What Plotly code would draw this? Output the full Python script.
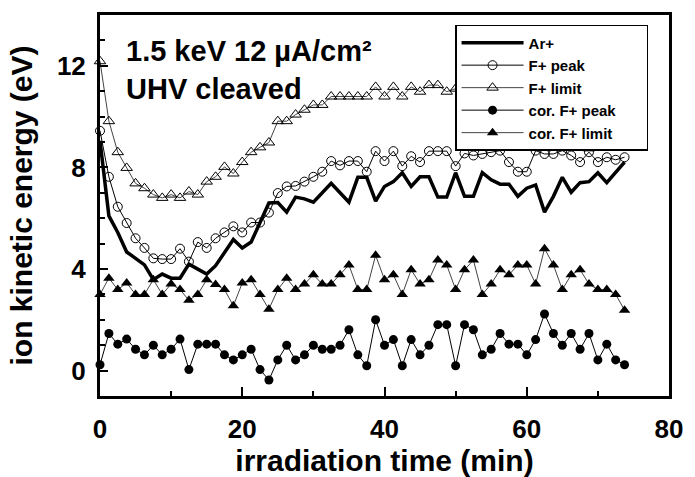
import plotly.graph_objects as go

time_min = [0, 1.25, 2.5, 3.75, 5, 6.25, 7.5, 8.75, 10, 11.25,
            12.5, 13.75, 15, 16.25, 17.5, 18.75, 20, 21.25, 22.5, 23.75,
            25, 26.25, 27.5, 28.75, 30, 31.25, 32.5, 33.75, 35, 36.25,
            37.5, 38.75, 40, 41.25, 42.5, 43.75, 45, 46.25, 47.5, 48.75,
            50, 51.25, 52.5, 53.75, 55, 56.25, 57.5, 58.75, 60, 61.25,
            62.5, 63.75, 65, 66.25, 67.5, 68.75, 70, 71.25, 72.5, 73.75]

ar_plus = [9.05, 6.09, 5.44, 4.67, 4.42, 4.16, 3.58, 3.80, 3.64, 3.64,
           4.19, 4.00, 3.80, 4.13, 4.67, 5.16, 4.83, 5.06, 5.83, 6.60,
           6.62, 6.24, 6.83, 6.76, 6.63, 7.00, 7.37, 7.00, 6.63, 7.61,
           7.61, 6.67, 7.25, 7.44, 7.79, 7.25, 7.63, 7.63, 6.83, 6.83,
           7.79, 6.86, 6.86, 7.79, 7.51, 7.34, 7.34, 6.86, 7.18, 7.31,
           6.24, 6.86, 7.61, 7.02, 7.40, 7.44, 7.79, 7.40, 7.83, 8.21]

f_peak = [9.44, 7.63, 6.45, 5.81, 5.21, 4.83, 4.42, 4.39, 4.39, 4.80,
          4.29, 5.06, 4.83, 5.21, 5.44, 5.68, 5.44, 5.83, 5.83, 6.22,
          6.99, 7.25, 7.27, 7.44, 7.63, 7.83, 8.25, 8.08, 8.25, 8.25,
          7.83, 8.64, 8.25, 8.64, 8.05, 8.44, 8.21, 8.64, 8.64, 8.64,
          8.05, 8.55, 8.47, 8.53, 8.60, 8.66, 8.21, 7.83, 7.83, 8.66,
          8.53, 8.53, 8.66, 8.47, 8.21, 8.60, 8.21, 8.40, 8.30, 8.40]

f_limit = [12.18, 9.82, 8.60, 7.98, 7.37, 7.18, 6.93, 6.80, 6.93, 6.80,
           7.05, 6.93, 7.44, 7.63, 8.02, 7.76, 8.21, 8.60, 8.79, 8.98,
           9.82, 9.82, 10.08, 10.27, 10.46, 10.46, 10.79, 10.79, 10.79, 10.79,
           10.79, 11.17, 10.79, 11.17, 10.79, 11.17, 10.98, 11.24, 11.24, 10.98,
           11.1, 10.9, 11.2, 11.0, 11.2, 10.9, 11.0, 10.7, 10.6, 10.9,
           11.0, 10.8, 10.6, 10.4, 10.0, 8.75, 9.9, 10.2, 10.0, 10.3]

cor_f_peak = [0.23, 1.46, 1.04, 1.24, 0.84, 0.62, 1.00, 0.62, 0.84, 1.24,
              0.04, 1.04, 1.04, 1.04, 0.62, 0.42, 0.62, 0.84, 0.04, -0.37,
              0.42, 1.00, 0.42, 0.62, 1.00, 0.84, 0.84, 1.00, 1.61, 0.62,
              0.19, 2.00, 1.00, 1.22, 0.19, 1.22, 0.62, 1.00, 1.81, 1.81,
              0.19, 1.81, 1.61, 0.62, 0.84, 1.46, 1.04, 1.04, 0.62, 1.22,
              2.23, 1.46, 1.00, 1.46, 0.84, 1.46, 0.42, 1.04, 0.42, 0.23]

cor_f_limit = [3.00, 3.64, 3.19, 3.45, 3.00, 3.00, 3.58, 3.00, 3.41, 3.19,
               2.77, 3.00, 3.58, 3.39, 3.19, 2.55, 3.45, 3.58, 3.00, 2.42,
               3.19, 3.64, 3.19, 3.41, 3.77, 3.41, 3.41, 3.77, 4.16, 3.19,
               3.19, 4.54, 3.58, 3.77, 3.00, 3.97, 3.41, 3.58, 4.35, 4.16,
               3.19, 3.97, 4.35, 3.00, 3.41, 3.97, 3.77, 4.16, 4.16, 3.41,
               4.80, 4.16, 3.19, 3.77, 3.97, 3.41, 3.19, 3.19, 3.00, 2.38]

series_names = ["Ar+", "F+ peak", "F+ limit",
                "cor. F+ peak" + "\u00a0" * 6, "cor. F+ limit"]
x_ticks = [0, 20, 40, 60, 80]
y_ticks = [0, 4, 8, 12]
annotation_text = "1.5 keV 12 µA/cm²<br>UHV cleaved"

FONT = "Liberation Sans, Arial, Helvetica, sans-serif"

fig = go.Figure()

fig.add_trace(go.Scatter(
    x=time_min, y=ar_plus, name=series_names[0], mode="lines",
    line=dict(color="black", width=3.5), cliponaxis=False))
fig.add_trace(go.Scatter(
    x=time_min, y=f_peak, name=series_names[1], mode="lines+markers",
    line=dict(color="black", width=1),
    marker=dict(symbol="circle-open", size=9, color="black", line=dict(width=1)),
    cliponaxis=False))
fig.add_trace(go.Scatter(
    x=time_min, y=f_limit, name=series_names[2], mode="lines+markers",
    line=dict(color="#444444", width=1),
    marker=dict(symbol="triangle-up-open", size=10, color="black", line=dict(width=1)),
    cliponaxis=False))
fig.add_trace(go.Scatter(
    x=time_min, y=cor_f_peak, name=series_names[3], mode="lines+markers",
    line=dict(color="black", width=1),
    marker=dict(symbol="circle", size=9, color="black"),
    cliponaxis=False))
fig.add_trace(go.Scatter(
    x=time_min, y=cor_f_limit, name=series_names[4], mode="lines+markers",
    line=dict(color="#444444", width=1),
    marker=dict(symbol="triangle-up", size=10, color="black"),
    cliponaxis=False))

fig.update_layout(
    width=695, height=477,
    margin=dict(l=100, r=18, t=15, b=74),
    paper_bgcolor="white", plot_bgcolor="white",
    font=dict(family=FONT, color="black"),
    showlegend=True,
    legend=dict(
        x=0.624, y=0.974, xanchor="left", yanchor="top",
        bgcolor="white", bordercolor="black", borderwidth=1.5,
        font=dict(family=FONT, size=15, color="black", weight="bold"),
        itemwidth=62, tracegroupgap=0,
    ),
    annotations=[dict(
        text=annotation_text, xref="paper", yref="paper",
        x=0.043, y=0.953, xanchor="left", yanchor="top", align="left",
        showarrow=False,
        font=dict(family=FONT, size=29, color="black", weight="bold"),
    )],
)

fig.update_xaxes(
    range=[0, 80], tickmode="array", tickvals=x_ticks,
    ticks="inside", ticklen=9, tickwidth=1.5, tickcolor="black",
    minor=dict(dtick=10, tick0=0, ticks="inside", ticklen=5, tickwidth=1.5, tickcolor="black"),
    showline=True, linewidth=3, linecolor="black", mirror=True,
    showgrid=False, zeroline=False,
    tickfont=dict(family=FONT, size=26, color="black", weight="bold"),
    ticklabelstandoff=8,
    title=dict(text="irradiation time (min)", standoff=0,
               font=dict(family=FONT, size=30, color="black", weight="bold")),
)
fig.update_yaxes(
    range=[-1, 14], tickmode="array", tickvals=y_ticks,
    ticks="inside", ticklen=8, tickwidth=1.5, tickcolor="black",
    minor=dict(dtick=1, tick0=0, ticks="inside", ticklen=5, tickwidth=1.5, tickcolor="black"),
    showline=True, linewidth=3, linecolor="black", mirror=True,
    showgrid=False, zeroline=False,
    tickfont=dict(family=FONT, size=26, color="black", weight="bold"),
    ticklabelstandoff=6,
    title=dict(text="ion kinetic energy (eV)", standoff=16,
               font=dict(family=FONT, size=30, color="black", weight="bold")),
)

fig.write_html("out.html")
